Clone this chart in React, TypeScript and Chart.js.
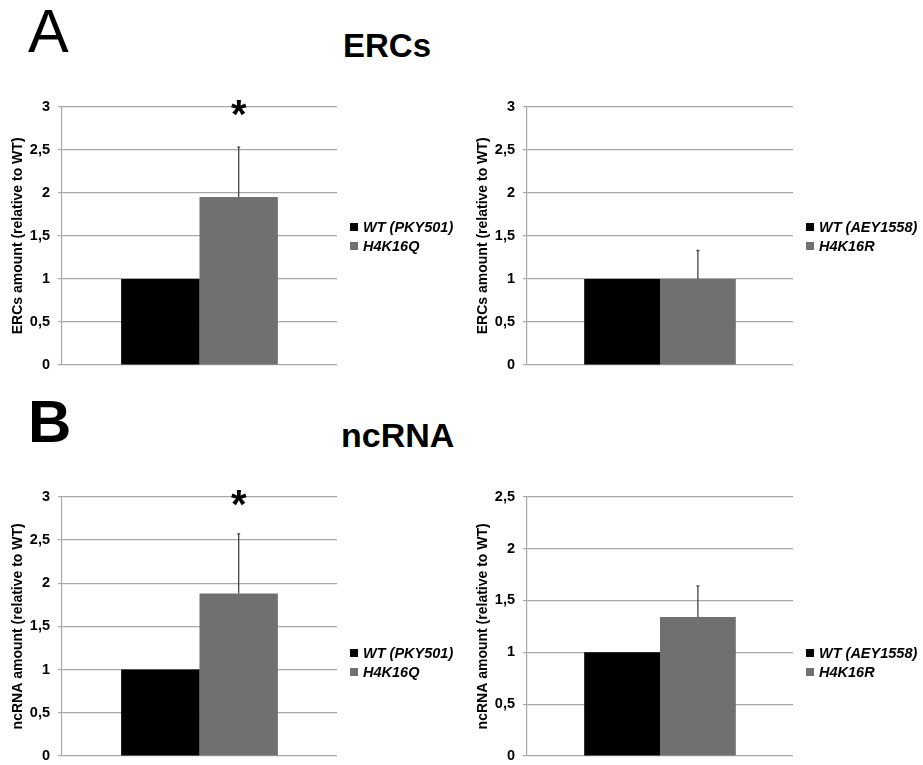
import React, { useEffect, useRef } from "react";
import { Chart, registerables } from "chart.js";

Chart.register(...registerables);

const FONT = '"Liberation Sans", Arial, Helvetica, sans-serif';

// ---- data ----
const categories = [""];
const ercsQLabels = ["WT (PKY501)", "H4K16Q"];
const ercsQValues = [1, 1.95];
const ercsQErrors = [0, 0.58];

const ercsRLabels = ["WT (AEY1558)", "H4K16R"];
const ercsRValues = [1, 1.0];
const ercsRErrors = [0, 0.33];

const ncQLabels = ["WT (PKY501)", "H4K16Q"];
const ncQValues = [1, 1.88];
const ncQErrors = [0, 0.69];

const ncRLabels = ["WT (AEY1558)", "H4K16R"];
const ncRValues = [1, 1.34];
const ncRErrors = [0, 0.3];

const seriesColors = ["#000000", "#707070"];

type PanelProps = {
  left: number;
  top: number;
  width: number;
  height: number;
  pad: { left: number; right: number; top: number; bottom: number };
  labels: string[];
  values: number[];
  errors: number[];
  yMax: number;
  yTitle: string;
  legendY: number[];
  star: boolean;
};

const errorBarPlugin = {
  id: "errorBars",
  afterDatasetsDraw(chart: any, _args: any, opts: any) {
    const { ctx } = chart;
    const y = chart.scales.y;
    const errs: number[] = opts.errors || [];
    chart.data.datasets.forEach((ds: any, i: number) => {
      const err = errs[i];
      if (!err) return;
      const meta = chart.getDatasetMeta(i);
      const bar = meta.data[0];
      const v = ds.data[0];
      const yTop = y.getPixelForValue(v + err);
      const yBase = y.getPixelForValue(v);
      ctx.save();
      ctx.strokeStyle = "#444";
      ctx.lineWidth = 1.3;
      ctx.beginPath();
      ctx.moveTo(bar.x, yBase);
      ctx.lineTo(bar.x, yTop);
      ctx.moveTo(bar.x - 1.5, yTop);
      ctx.lineTo(bar.x + 1.5, yTop);
      ctx.stroke();
      ctx.restore();
    });
    if (opts.star) {
      const meta = chart.getDatasetMeta(1);
      const bar = meta.data[0];
      ctx.save();
      ctx.fillStyle = "#000";
      ctx.font = `bold 40px ${FONT}`;
      ctx.textAlign = "center";
      ctx.textBaseline = "alphabetic";
      ctx.fillText("*", bar.x, chart.chartArea.top + 21);
      ctx.restore();
    }
  },
};

const legendPlugin = {
  id: "sideLegend",
  afterDraw(chart: any, _args: any, opts: any) {
    const { ctx } = chart;
    const x0 = chart.chartArea.right + 13;
    const ys: number[] = opts.ys || [];
    chart.data.datasets.forEach((ds: any, i: number) => {
      const yc = ys[i];
      ctx.save();
      ctx.fillStyle = ds.backgroundColor;
      ctx.fillRect(x0, yc - 4, 8, 8);
      ctx.fillStyle = "#000";
      ctx.font = `italic bold 14.5px ${FONT}`;
      ctx.textAlign = "left";
      ctx.textBaseline = "middle";
      ctx.fillText(ds.label, x0 + 13, yc + 0.5);
      ctx.restore();
    });
  },
};

function Panel(p: PanelProps) {
  const ref = useRef<HTMLCanvasElement | null>(null);
  useEffect(() => {
    if (!ref.current) return;
    const chart = new Chart(ref.current, {
      type: "bar",
      data: {
        labels: categories,
        datasets: p.labels.map((lab, i) => ({
          label: lab,
          data: [p.values[i]],
          backgroundColor: seriesColors[i],
          borderWidth: 0,
          barPercentage: 1,
          categoryPercentage: 0.57,
        })),
      },
      options: {
        responsive: false,
        maintainAspectRatio: false,
        animation: false,
        devicePixelRatio: 1,
        layout: { padding: p.pad },
        plugins: {
          legend: { display: false },
          tooltip: { enabled: false },
          title: { display: false },
          errorBars: { errors: p.errors, star: p.star },
          sideLegend: { ys: p.legendY },
        } as any,
        scales: {
          x: { display: false },
          y: {
            min: 0,
            max: p.yMax,
            afterFit: (scale: any) => {
              scale.width = 54;
            },
            ticks: {
              stepSize: 0.5,
              color: "#000",
              padding: 8,
              font: { family: FONT, size: 14.5, weight: "bold" },
              callback: (v: any) => String(v).replace(".", ","),
            },
            grid: {
              color: "#a8a8a8",
              lineWidth: 1.2,
              drawTicks: true,
              tickLength: 4,
            },
            border: { color: "#a8a8a8", width: 1.2 },
            title: {
              display: true,
              text: p.yTitle,
              color: "#000",
              padding: { top: 1.6, bottom: 0 },
              font: { family: FONT, size: 14, weight: "bold" },
            },
          },
        },
      },
      plugins: [errorBarPlugin, legendPlugin],
    });
    return () => chart.destroy();
  }, []);
  return (
    <canvas
      ref={ref}
      width={p.width}
      height={p.height}
      style={{
        position: "absolute",
        left: p.left,
        top: p.top,
        width: p.width,
        height: p.height,
      }}
    />
  );
}

const textBase: React.CSSProperties = {
  position: "absolute",
  fontFamily: FONT,
  lineHeight: 1,
  color: "#000",
  whiteSpace: "nowrap",
  margin: 0,
};

export default function App() {
  return (
    <div
      style={{
        position: "absolute",
        left: 0,
        top: 0,
        width: 923,
        height: 765,
        background: "#fff",
        overflow: "hidden",
      }}
    >
      <div style={{ ...textBase, left: 28, top: 1, fontSize: 61 }}>A</div>
      <div style={{ ...textBase, left: 343, top: 28.7, fontSize: 33, fontWeight: "bold" }}>ERCs</div>
      <div style={{ ...textBase, left: 28, top: 392, fontSize: 60, fontWeight: "bold" }}>B</div>
      <div style={{ ...textBase, left: 341, top: 417.6, fontSize: 34, fontWeight: "bold" }}>ncRNA</div>

      <Panel
        left={0}
        top={90}
        width={460}
        height={292}
        pad={{ left: 8, right: 123, top: 15, bottom: 17 }}
        labels={ercsQLabels}
        values={ercsQValues}
        errors={ercsQErrors}
        yMax={3}
        yTitle="ERCs amount (relative to WT)"
        legendY={[137, 156]}
        star={true}
      />
      <Panel
        left={460}
        top={90}
        width={463}
        height={292}
        pad={{ left: 13, right: 130, top: 15, bottom: 17 }}
        labels={ercsRLabels}
        values={ercsRValues}
        errors={ercsRErrors}
        yMax={3}
        yTitle="ERCs amount (relative to WT)"
        legendY={[137, 156]}
        star={false}
      />
      <Panel
        left={0}
        top={480}
        width={460}
        height={293}
        pad={{ left: 8, right: 123, top: 16, bottom: 17 }}
        labels={ncQLabels}
        values={ncQValues}
        errors={ncQErrors}
        yMax={3}
        yTitle="ncRNA amount (relative to WT)"
        legendY={[173, 192]}
        star={true}
      />
      <Panel
        left={460}
        top={480}
        width={463}
        height={293}
        pad={{ left: 13, right: 130, top: 16, bottom: 17 }}
        labels={ncRLabels}
        values={ncRValues}
        errors={ncRErrors}
        yMax={2.5}
        yTitle="ncRNA amount (relative to WT)"
        legendY={[173, 192]}
        star={false}
      />
    </div>
  );
}
